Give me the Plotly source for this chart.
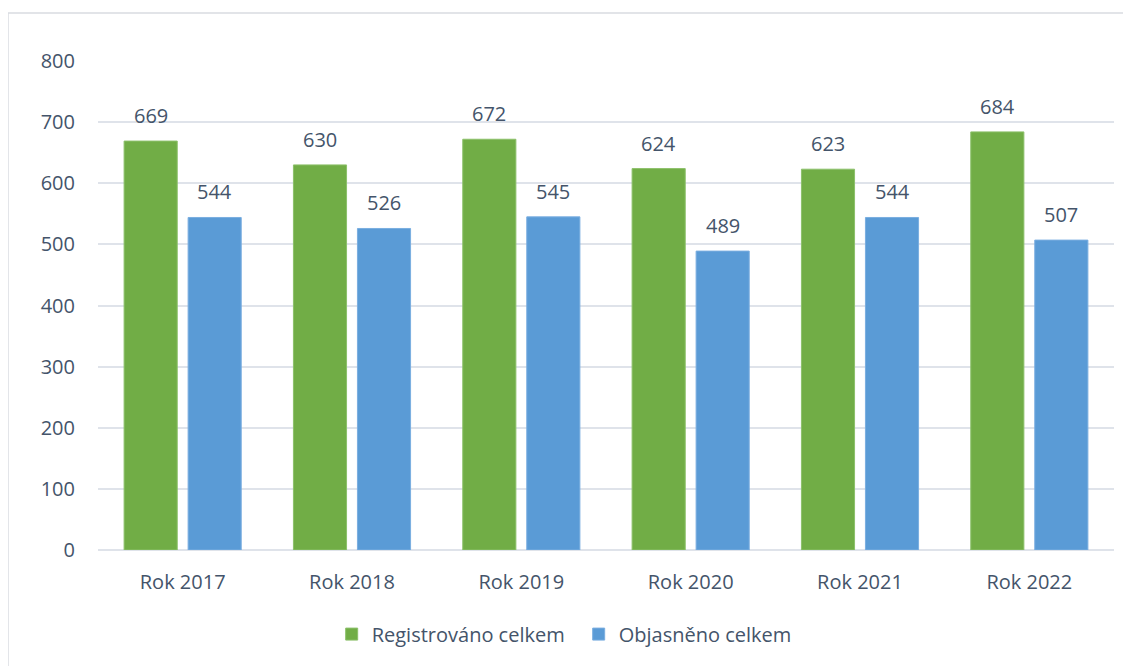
import plotly.graph_objects as go

categories = ["Rok 2017", "Rok 2018", "Rok 2019", "Rok 2020", "Rok 2021", "Rok 2022"]
registrovano = [669, 630, 672, 624, 623, 684]
objasneno = [544, 526, 545, 489, 544, 507]

text_color = "#44546A"
font_family = "Open Sans"

fig = go.Figure()

fig.add_trace(go.Bar(
    x=categories, y=registrovano, name="Registrováno celkem",
    marker=dict(color="#71AD46", line=dict(color="#8CC06A", width=1)),
))
fig.add_trace(go.Bar(
    x=categories, y=objasneno, name="Objasněno celkem",
    marker=dict(color="#5A9BD6", line=dict(color="#7AAEE0", width=1)),
))

# value labels above the bars (offset to each bar in the group)
annotations = []
for series, shift in ((registrovano, -32), (objasneno, 32)):
    for cat, val in zip(categories, series):
        annotations.append(dict(
            x=cat, y=val, xref="x", yref="y", text=str(val), showarrow=False,
            xshift=shift, yshift=10, yanchor="bottom",
            font=dict(family=font_family, size=20, color=text_color),
        ))

fig.update_layout(
    width=1131, height=666,
    margin=dict(l=90, r=25, t=53, b=124),
    paper_bgcolor="white", plot_bgcolor="white",
    font=dict(family=font_family, size=20, color=text_color),
    barmode="group", bargap=0.244, bargroupgap=0.17,
    showlegend=True,
    legend=dict(orientation="h", x=0.23, xanchor="left", y=-0.172, yanchor="middle",
                font=dict(size=20, color=text_color), itemwidth=30,
                entrywidth=202, entrywidthmode="pixels"),
    annotations=annotations,
    shapes=[dict(type="rect", xref="paper", yref="paper",
                 x0=-0.0886, x1=1.05, y0=-0.3, y1=1.098,
                 line=dict(color="#D9DCE1", width=1.5), fillcolor="rgba(0,0,0,0)", layer="below")],
)

fig.update_yaxes(range=[0, 800], dtick=100, showgrid=True, gridcolor="#DFE3EA", gridwidth=1.5,
                 zeroline=True, zerolinecolor="#DFE3EA", zerolinewidth=1.5,
                 showline=False, ticks="", ticklabelstandoff=22,
                 tickfont=dict(size=20, color=text_color))
fig.update_xaxes(showgrid=False, showline=False, ticks="",
                 tickfont=dict(size=20, color=text_color), ticklabelstandoff=18)

fig.write_html("out.html")
